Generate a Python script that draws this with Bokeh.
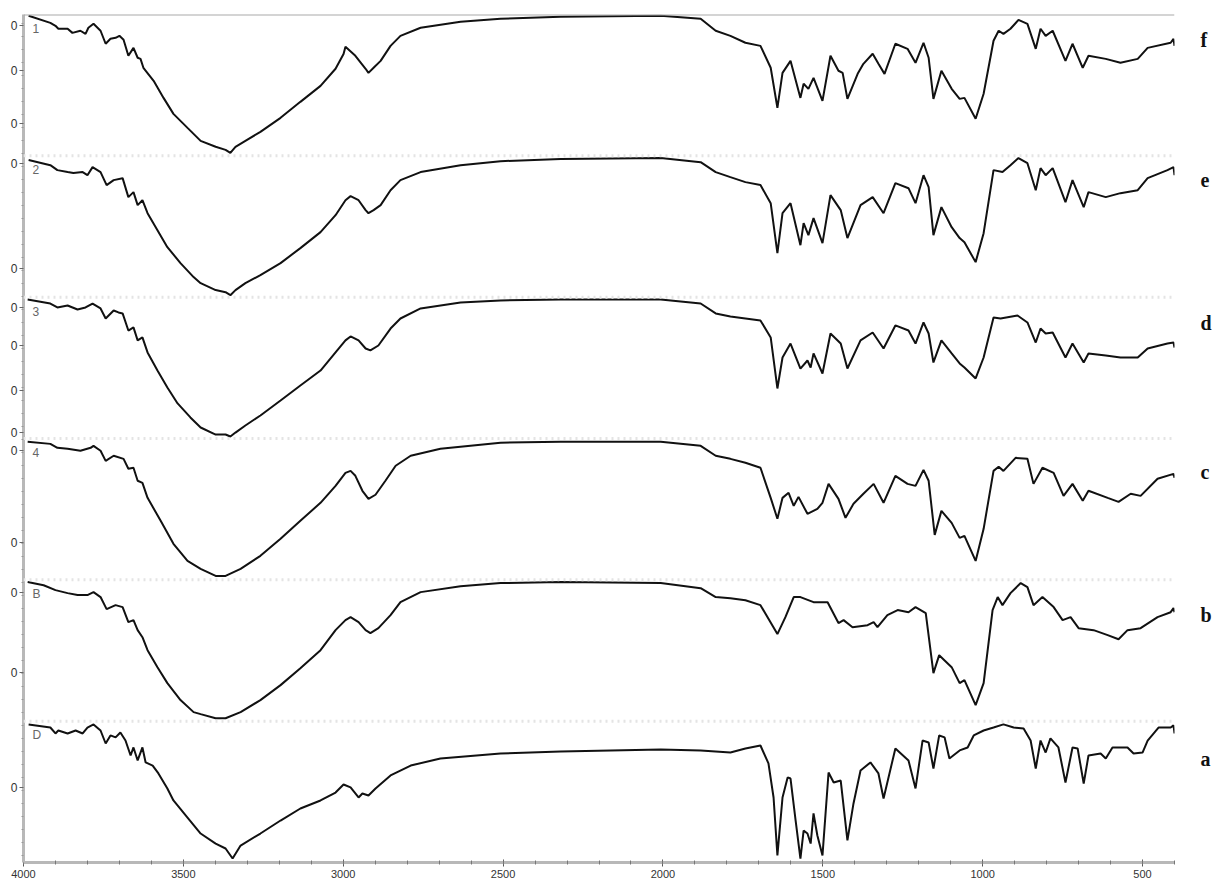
import numpy as np
from bokeh.plotting import figure
from bokeh.models import Range1d, LinearAxis, FixedTicker, SingleIntervalTicker, Span
from bokeh.embed import file_html
from bokeh.resources import INLINE
from bokeh.core.properties import value

# ---------------- data (wavenumber cm-1, transmittance within each panel 0-100) ----------------
wn_f = [3984,3916,3900,3891,3862,3847,3822,3806,3797,3781,3759,3743,3728,3712,3700,3687,3672,3656,3643,3634,3625,3593,3562,3531,3487,3446,3399,3368,3353,3337,3306,3259,3196,3134,3071,3024,2999,2993,2962,2930,2921,2905,2883,2852,2821,2758,2633,2508,2320,2007,1882,1835,1789,1742,1695,1663,1642,1626,1601,1570,1560,1545,1529,1501,1476,1451,1438,1423,1391,1373,1344,1326,1307,1273,1235,1210,1185,1169,1154,1129,1097,1072,1057,1022,997,966,950,935,913,888,860,834,819,803,781,741,719,687,669,615,569,515,484,412,403,400]
t_f = [99.1,94.1,92,89.9,89.9,87,88.5,86.3,90.6,93.4,88.5,79.3,82.8,83.5,84.9,82.1,70.8,76.4,69.4,68.6,62.3,53.1,41,29.7,19.8,10.6,6.4,4.2,2.1,6.4,10.6,17,26.9,38.2,49.5,61.6,72,77.1,70.8,61.6,58.7,62.3,67.2,77.8,84.9,90.6,94.8,97,98.4,99.1,97,88.5,84.9,80,77.8,62.3,34,58.7,67.2,41,51,47.4,55.2,38.9,70.8,60.2,58.7,40.3,58,65.1,72.2,65.1,58,79.3,75.7,65.8,80,69.4,40.3,60.2,47.4,40.3,41,26.2,43.9,81.4,88.5,86.3,89.9,96.2,93.4,75.7,89.9,84.9,88.5,67.2,79.3,62.3,70.8,68.6,65.8,68.6,76.4,80,82.8,77.8]

wn_e = [3984,3916,3894,3862,3844,3815,3800,3784,3759,3740,3718,3690,3672,3656,3643,3628,3612,3581,3550,3509,3468,3446,3399,3368,3353,3337,3306,3259,3196,3134,3071,3024,2993,2977,2952,2930,2921,2905,2883,2852,2821,2758,2633,2508,2320,2007,1882,1835,1789,1742,1695,1663,1642,1626,1601,1570,1560,1545,1529,1501,1476,1444,1423,1382,1344,1310,1273,1232,1210,1185,1169,1154,1129,1097,1072,1057,1022,997,966,938,913,888,860,834,819,803,781,741,719,684,669,615,569,515,484,422,403,400]
t_e = [97,93.4,89.9,88.5,87.8,88.5,86.3,92,88.5,79.3,82.8,84.2,70.8,74.3,65.1,68.6,59.4,47.4,35.4,24.1,14.2,9.9,5,3.5,1.4,5,9.9,15.6,24.1,34.7,46,58,68.6,71.5,68.6,61.6,59.4,61.6,65.1,75.7,82.8,88.5,93.4,96.2,97.7,98.4,95.5,88.5,84.9,81.4,79.3,66.5,31.1,59.4,66.5,36.8,52.4,43.9,55.9,38.2,72.2,61.6,41.8,65.1,70.8,59.4,80.7,77.1,66.5,86.3,77.8,43.9,63.7,49.5,41.8,38.9,24.8,45.3,89.9,88.5,93.4,98.4,94.8,75.7,91.3,86.3,91.3,67.2,82.8,63.7,74.3,70.8,73.6,75.7,84.2,89.9,92,86.3]

wn_d = [3987,3916,3894,3862,3831,3806,3784,3759,3743,3718,3703,3690,3672,3656,3643,3628,3612,3581,3550,3518,3478,3446,3399,3368,3353,3337,3306,3259,3196,3134,3071,3024,2993,2977,2952,2930,2915,2890,2852,2821,2758,2633,2508,2320,2007,1882,1835,1789,1742,1695,1663,1642,1626,1601,1570,1548,1538,1529,1501,1476,1444,1423,1382,1344,1310,1273,1232,1210,1185,1169,1154,1129,1097,1072,1057,1022,997,966,944,891,860,834,819,803,781,741,719,684,669,615,569,515,484,422,403,400]
t_d = [98.4,95.5,92.7,94.1,91.3,92.7,95.5,92,84.9,90.6,89.2,88.5,76.4,78.6,69.4,71.5,60.9,48.1,36.1,24.8,14.9,7.8,2.8,2.8,1.4,4.2,9.2,16.3,26.9,37.5,48.1,60.9,69.4,72.2,69.4,63.7,62.3,65.8,77.8,84.9,92,96.2,97.7,98.4,98.4,95.5,88.5,86.3,84.9,83.5,71.5,35.4,57.3,67.2,49.5,55.2,50.2,60.2,46,74.3,67.2,49.5,69.4,75,63.7,80,76.4,67.2,82.1,74.3,53.8,69.4,60.2,53.1,50.2,42.5,57.3,85.6,84.9,87,82.1,67.9,77.8,74.3,75,57.3,67.2,53.8,60.2,58.7,57.3,57.3,63.7,67.2,67.9,64.4]

wn_c = [3987,3916,3894,3862,3822,3790,3781,3759,3743,3718,3687,3672,3656,3643,3628,3612,3571,3531,3487,3446,3399,3368,3321,3259,3196,3134,3071,3024,2993,2977,2962,2940,2921,2899,2868,2836,2789,2696,2508,2320,2007,1882,1835,1789,1742,1695,1663,1642,1626,1607,1591,1576,1548,1517,1501,1482,1451,1429,1404,1373,1341,1310,1273,1235,1210,1185,1169,1150,1129,1097,1072,1057,1022,997,966,950,935,897,860,841,813,778,747,719,687,669,609,575,537,506,453,403,400]
t_c = [97.7,96.2,93.4,92.7,91.3,93.4,94.8,91.3,84.2,87.8,85.6,78.6,79.3,70.1,68.6,58,41.8,25.5,13.4,7.8,2.8,2.8,7.8,17,29,41.8,54.5,66.5,75.7,77.1,73.6,63,57.3,60.2,70.1,80.7,87.8,92.7,97,97.7,97.7,94.8,87.8,85.6,82.8,79.3,58,43.2,58,61.6,52.4,58.7,46.7,50.2,54.5,67.9,57.3,43.9,53.8,60.9,67.9,54.5,73.6,67.9,66.5,77.8,70.1,31.8,48.8,40.3,29.7,31.1,13.4,36.1,77.1,80,77.1,86.3,85.6,67.9,79.3,75.7,59.4,67.9,55.9,63,58,55.2,60.9,59.4,71.5,75,72.2]

wn_b = [3987,3937,3900,3862,3831,3800,3781,3759,3740,3712,3690,3672,3656,3643,3628,3612,3581,3550,3509,3468,3446,3399,3368,3321,3259,3196,3134,3071,3024,2993,2977,2952,2930,2915,2890,2852,2821,2758,2633,2508,2320,2007,1882,1835,1789,1742,1695,1642,1617,1591,1570,1529,1485,1451,1435,1407,1360,1341,1329,1298,1266,1232,1210,1178,1154,1136,1097,1072,1057,1022,997,969,953,938,913,881,860,841,813,778,750,725,700,653,609,575,547,506,453,412,403,400]
t_b = [98.4,96.2,92.7,90.6,89.2,89.2,91.3,87.8,79.3,82.1,80.7,70.1,71.5,64.4,59.4,50.2,38.2,26.9,14.9,6.4,5,2.1,2.1,6.4,14.9,25.5,37.5,50.2,64.4,71.5,73.6,70.1,64.4,62.3,65.8,75,84.2,91.3,95.5,97.7,98.4,97.7,94.1,87.8,87,85.6,82.1,61.6,73.6,87.8,87.8,84.2,84.2,69.4,71.5,66.5,67.9,70.1,66.5,75,78.6,77.1,80.7,76.4,34,46.7,38.2,26.9,29,11.3,26.9,78.6,87.8,82.1,90.6,97.7,94.8,82.1,87.8,80.7,71.5,73.6,65.8,64.4,60.9,58,64.4,65.8,73.6,77.1,80,77.1]

wn_a = [3984,3916,3900,3891,3862,3837,3815,3800,3781,3759,3743,3728,3712,3697,3681,3665,3656,3643,3628,3618,3596,3578,3550,3531,3487,3446,3399,3368,3346,3321,3259,3196,3134,3071,3024,2999,2977,2952,2940,2921,2899,2852,2789,2696,2508,2320,2007,1882,1789,1742,1695,1670,1654,1642,1626,1610,1601,1585,1570,1560,1548,1538,1529,1517,1501,1482,1466,1444,1423,1404,1382,1351,1326,1310,1273,1232,1210,1188,1169,1154,1136,1119,1104,1072,1047,1028,997,966,935,903,872,850,834,819,803,788,763,741,719,703,684,669,631,615,594,547,528,500,484,450,412,403,400]
t_a = [97.7,95.5,91.3,93.4,91.3,93.4,91.3,95.5,97.7,93.4,84.2,89.9,88.5,92,86.3,75.7,81.4,72.2,81.4,70.8,68.6,63,52.4,43.9,31.8,20.5,13.4,9.9,2.8,12,20.5,29.7,38.2,43.9,49.5,55.2,53.1,46,48.8,47.4,52.4,61.6,68.6,73.6,77.1,78.6,80,79.3,77.8,80.7,82.8,70.1,46,5,46,60.2,59.4,29.7,2.8,22.6,20.5,13.4,34.7,19.1,5,63.7,56.6,58,15.6,41.8,65.1,70.8,63,45.3,80.7,72.2,52.4,86.3,84.9,66.5,89.9,88.5,73.6,79.3,81.4,89.9,93.4,95.5,97.7,95.5,94.8,86.3,66.5,86.3,77.8,87.8,81.4,56.6,81.4,80.7,55.9,75.7,77.1,73.6,81.4,81.4,77.1,77.8,86.3,95.5,95.5,97,91.3]

series_names = ["a", "b", "c", "d", "e", "f"]          # right-hand labels, bottom to top
inner_names = ["D", "B", "4", "3", "2", "1"]           # labels inside each panel
series_wn = [wn_a, wn_b, wn_c, wn_d, wn_e, wn_f]
series_t = [t_a, t_b, t_c, t_d, t_e, t_f]
x_tick_labels = [4000, 3500, 3000, 2500, 2000, 1500, 1000, 500]

PANEL = 100.0
offsets = [i * PANEL for i in range(6)]

# ---------------- figure ----------------
p = figure(width=1214, height=888, output_backend="svg", toolbar_location=None,
           x_range=Range1d(4000, 400), y_range=Range1d(0, 6 * PANEL),
           min_border_left=23, min_border_right=40, min_border_top=14, min_border_bottom=26)
p.outline_line_color = None
p.grid.visible = False
p.background_fill_color = "white"
p.border_fill_color = "white"

# panel separators
for off in offsets[1:]:
    p.add_layout(Span(location=off, dimension="width", line_color="#e4e4e4",
                      line_width=3, line_dash="dotted"))
# top border line
p.add_layout(Span(location=6 * PANEL, dimension="width", line_color="#a9a9a9", line_width=2))

for wn, t, off in zip(series_wn, series_t, offsets):
    p.line(wn, np.array(t) + off, line_color="#111111", line_width=2)

# inner panel labels
p.text(x=[3972] * 6, y=[off + 90 for off in offsets], text=inner_names,
       text_font=value("Liberation Sans"), text_font_size="12px", text_color="#666666",
       text_baseline="middle", text_align="left")

# x axis
xa = p.xaxis[0]
xa.ticker = SingleIntervalTicker(interval=500, num_minor_ticks=5)
xa.major_label_overrides = {v: str(v) for v in x_tick_labels}
xa.axis_line_color = "#b8b8b8"
xa.axis_line_width = 3
xa.major_tick_line_color = "#555555"
xa.minor_tick_line_color = "#777777"
xa.major_tick_in = 3
xa.major_tick_out = 4
xa.minor_tick_in = 2
xa.minor_tick_out = 2
xa.major_label_standoff = 3
xa.major_label_text_font = "Liberation Sans"
xa.major_label_text_font_size = "11px"
xa.major_label_text_color = "#333333"

# left axis with the small "0" labels
left_ticks = [592.4, 560.5, 523.0, 494.7, 420.4, 392.8, 365.9, 334.0, 304.3, 291.6, 226.5, 191.0, 134.5, 53.1]
ya = p.yaxis[0]
ya.ticker = FixedTicker(ticks=left_ticks, minor_ticks=list(np.arange(4.6, 600, 9.2)))
ya.major_label_overrides = {v: "0" for v in left_ticks}
ya.axis_line_color = "#b8b8b8"
ya.axis_line_width = 3
ya.major_tick_line_color = "#666666"
ya.minor_tick_line_color = "#999999"
ya.major_tick_in = 0
ya.major_tick_out = 4
ya.minor_tick_in = 0
ya.minor_tick_out = 2
ya.major_label_standoff = 2
ya.major_label_text_font = "Liberation Sans"
ya.major_label_text_font_size = "12px"
ya.major_label_text_color = "#333333"

# right axis carrying the sample letters
right_pos = [73, 75, 76, 82, 83, 82]
right_ticks = [off + rp for off, rp in zip(offsets, right_pos)]
ra = LinearAxis(ticker=FixedTicker(ticks=right_ticks, minor_ticks=[]),
                major_label_overrides={float(v): n for v, n in zip(right_ticks, series_names)})
ra.axis_line_color = None
ra.major_tick_line_color = None
ra.minor_tick_line_color = None
ra.major_label_standoff = 20
ra.major_label_text_font = "Liberation Serif"
ra.major_label_text_font_style = "bold"
ra.major_label_text_font_size = "20px"
ra.major_label_text_color = "#111111"
p.add_layout(ra, "right")

open("out.html", "w").write(file_html(p, INLINE))
